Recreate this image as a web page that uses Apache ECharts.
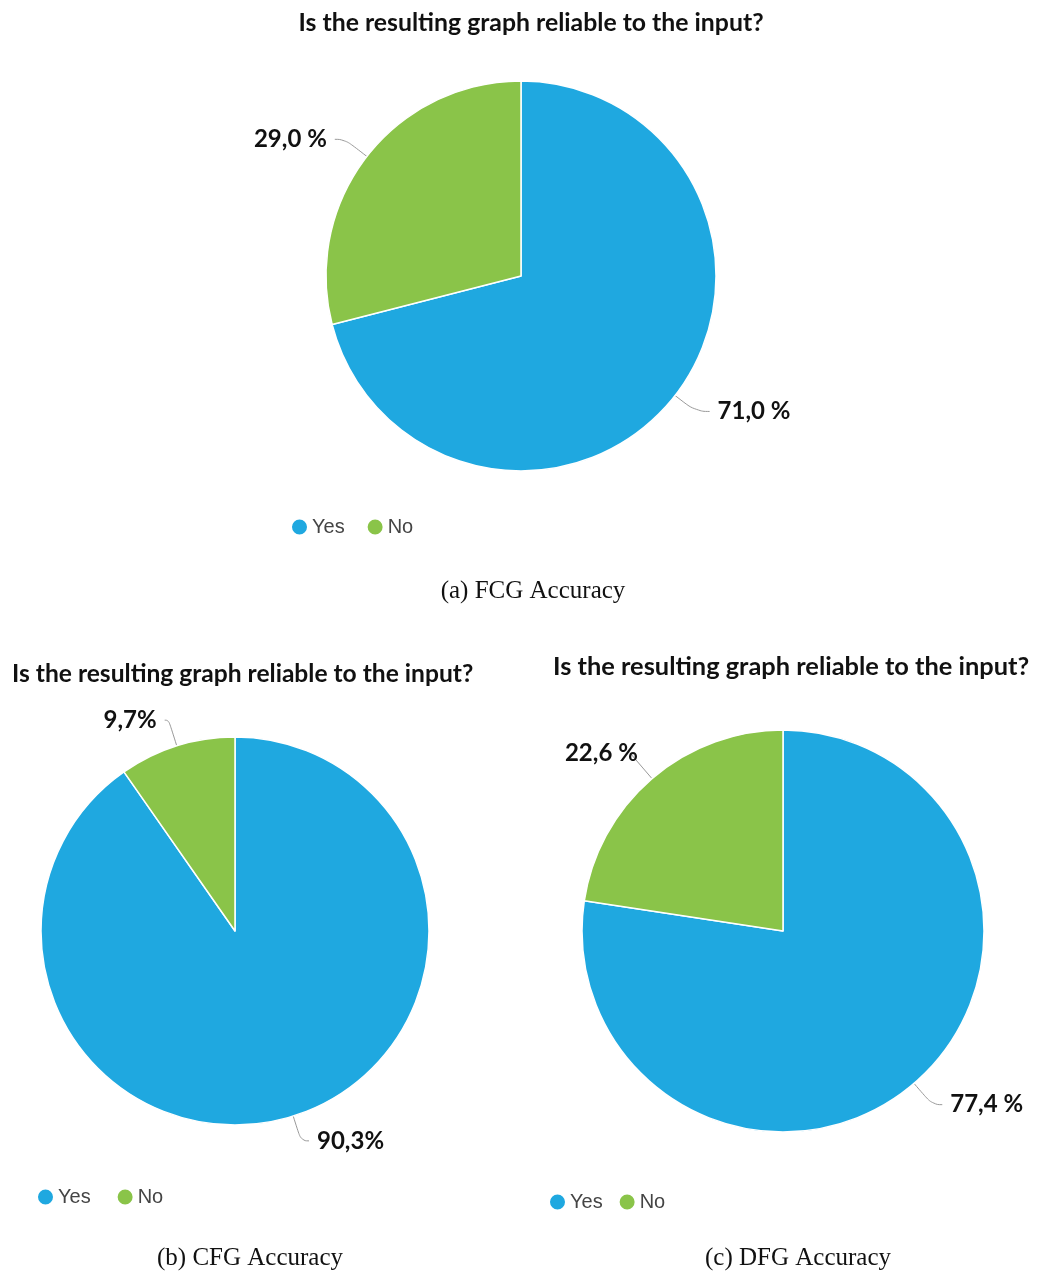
<!DOCTYPE html>
<html>
<head>
<meta charset="utf-8">
<script src="https://cdn.jsdelivr.net/npm/echarts@6/dist/echarts.min.js"></script>
<style>
html,body{margin:0;padding:0;background:#fff;}
#chart{width:1037px;height:1273px;}
</style>
</head>
<body>
<div id="chart"></div>
<script>
// ---- data ----
const categories = ['Yes', 'No'];
const fcgValues = [71.0, 29.0];
const fcgLabels = ['71,0 %', '29,0 %'];
const cfgValues = [90.3, 9.7];
const cfgLabels = ['90,3%', '9,7%'];
const dfgValues = [77.4, 22.6];
const dfgLabels = ['77,4 %', '22,6 %'];
const chartTitle = 'Is the resulting graph reliable to the input?';
const captions = ['(a) FCG Accuracy', '(b) CFG Accuracy', '(c) DFG Accuracy'];
const colors = ['#1FA8E0', '#8AC449'];

const chart = echarts.init(document.getElementById('chart'), null, {renderer: 'canvas'});

// lines: per-slice [length, length2, distanceToLabelLine]
function makeSeries(name, values, labels, center, radius, lines) {
  return {
    type: 'pie',
    name: name,
    center: center,
    radius: radius,
    startAngle: 90,
    clockwise: true,
    animation: false,
    legendHoverLink: false,
    itemStyle: {borderColor: '#ffffff', borderWidth: 1.5},
    label: {
      show: true,
      position: 'outside',
      formatter: p => labels[p.dataIndex],
      fontFamily: 'Lato',
      fontWeight: 'bold',
      fontSize: 24,
      color: '#111'
    },
    labelLine: {
      show: true,
      smooth: 0.5,
      lineStyle: {color: '#9a9a9a', width: 1}
    },
    emphasis: {disabled: true},
    data: categories.map((c, i) => ({
      name: c,
      value: values[i],
      label: {distanceToLabelLine: lines[i][2]},
      labelLine: {length: lines[i][0], length2: lines[i][1]}
    }))
  };
}

function makeLegend(left, top, gap) {
  return {
    data: categories,
    left: left,
    top: top,
    orient: 'horizontal',
    icon: 'circle',
    itemWidth: 17,
    itemHeight: 17,
    itemGap: gap,
    selectedMode: false,
    padding: 0,
    textStyle: {fontFamily: 'Liberation Sans', fontSize: 20, color: '#444', padding: [0, 0, 0, -1]}
  };
}

const capFont = '25px "Liberation Serif"';

const option = {
  color: colors,
  backgroundColor: '#ffffff',
  legend: [
    makeLegend(290, 517, 21),
    makeLegend(36, 1187, 25),
    makeLegend(548, 1192, 15)
  ],
  graphic: [
    {type: 'text', x: 531, y: 23, style: {text: chartTitle, font: 'bold 24.8px Lato', fill: '#111', textAlign: 'center', textVerticalAlign: 'middle'}},
    {type: 'text', x: 12, y: 674, style: {text: chartTitle, font: 'bold 24.6px Lato', fill: '#111', textAlign: 'left', textVerticalAlign: 'middle'}},
    {type: 'text', x: 553, y: 667, style: {text: chartTitle, font: 'bold 25.4px Lato', fill: '#111', textAlign: 'left', textVerticalAlign: 'middle'}},
    {type: 'text', x: 533, y: 591, style: {text: captions[0], font: capFont, fill: '#111', textAlign: 'center', textVerticalAlign: 'middle'}},
    {type: 'text', x: 250, y: 1258, style: {text: captions[1], font: capFont, fill: '#111', textAlign: 'center', textVerticalAlign: 'middle'}},
    {type: 'text', x: 798, y: 1258, style: {text: captions[2], font: capFont, fill: '#111', textAlign: 'center', textVerticalAlign: 'middle'}}
  ],
  series: [
    makeSeries('FCG', fcgValues, fcgLabels, [521, 276], [0, 195], [[26, 14, 8], [28, 10, 8]]),
    makeSeries('CFG', cfgValues, cfgLabels, [235, 931], [0, 194], [[26, 8, 8], [27, 4, 8]]),
    makeSeries('DFG', dfgValues, dfgLabels, [783, 931], [0, 201], [[28, 10, 8], [34, 0, -8]])
  ]
};
chart.setOption(option);
</script>
</body>
</html>
